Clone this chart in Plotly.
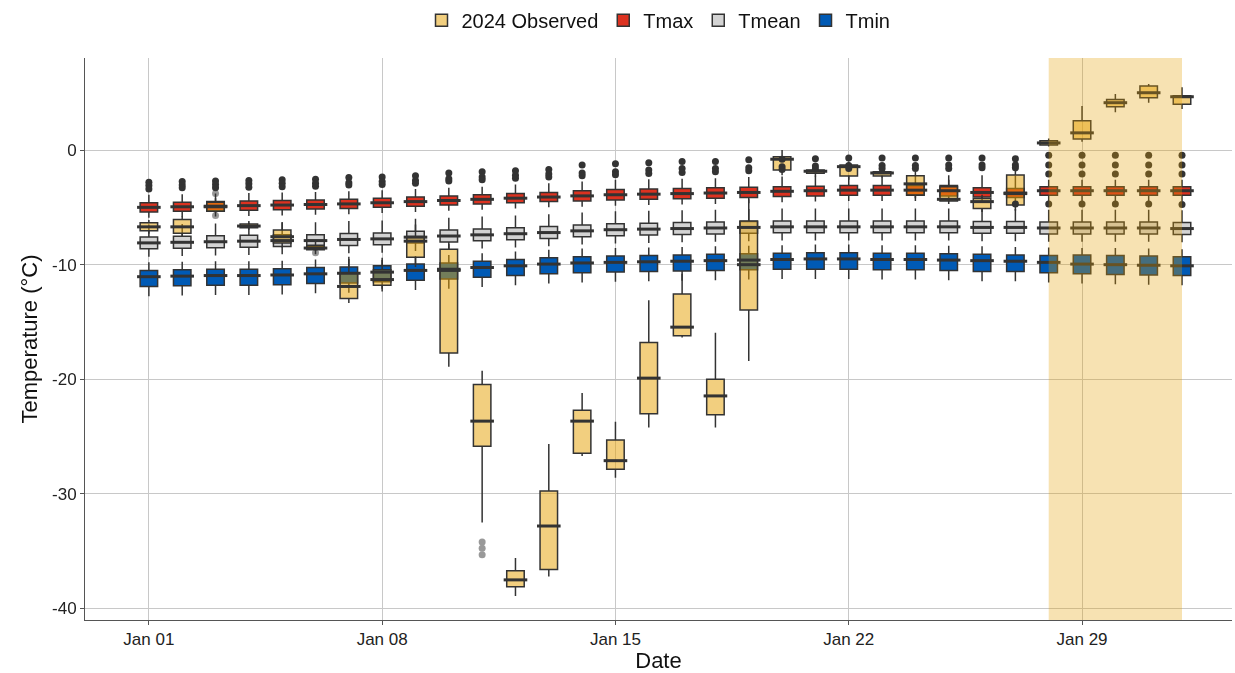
import pandas as pd
import plotly.graph_objects as go

# one box per day, Jan 01 .. Feb 01
dates = pd.date_range("2024-01-01", "2024-02-01", freq="D")

# climatology: Tmax
tmax_med = [-5.0, -4.95, -4.9, -4.85, -4.8, -4.75, -4.7, -4.6, -4.5, -4.4, -4.3, -4.2, -4.1, -4.0, -3.9, -3.85,
            -3.8, -3.75, -3.7, -3.6, -3.55, -3.5, -3.5, -3.5, -3.55, -3.7, -3.75, -3.55, -3.55, -3.55, -3.55, -3.55]
tmax_q1 = [-5.4, -5.35, -5.3, -5.25, -5.2, -5.15, -5.1, -5.0, -4.9, -4.8, -4.7, -4.6, -4.5, -4.45, -4.35, -4.3,
           -4.25, -4.2, -4.15, -4.05, -4.0, -3.95, -3.95, -3.95, -4.0, -4.1, -4.15, -3.95, -3.95, -3.95, -3.95, -3.95]
tmax_q3 = [-4.6, -4.55, -4.5, -4.45, -4.4, -4.35, -4.3, -4.2, -4.1, -4.0, -3.9, -3.8, -3.7, -3.55, -3.45, -3.4,
           -3.35, -3.3, -3.25, -3.2, -3.15, -3.1, -3.1, -3.1, -3.1, -3.3, -3.35, -3.2, -3.2, -3.2, -3.2, -3.2]
tmax_lo = [-5.9, -5.85, -5.8, -5.75, -5.7, -5.65, -5.6, -5.5, -5.4, -5.3, -5.2, -5.1, -5.0, -4.95, -4.85, -4.8,
           -4.75, -4.7, -4.65, -4.55, -4.5, -4.45, -4.45, -4.45, -4.5, -4.6, -4.65, -4.45, -4.45, -4.45, -4.45, -4.45]
tmax_hi = [-3.9, -3.85, -3.8, -3.75, -3.7, -3.65, -3.6, -3.5, -3.4, -3.3, -3.2, -3.0, -2.9, -2.75, -2.6, -2.55,
           -2.5, -2.45, -2.35, -2.3, -2.25, -2.2, -2.2, -2.2, -2.2, -2.2, -2.25, -2.6, -2.6, -2.6, -2.6, -2.6]
tmax_out = [[-2.8, -3.1, -3.4], [-2.75, -3.05, -3.3], [-2.7, -3.0, -3.3], [-2.65, -2.95, -3.25],
            [-2.6, -2.9, -3.2], [-2.55, -2.9, -3.15], [-2.4, -2.85, -3.05], [-2.35, -2.75, -3.0],
            [-2.25, -2.65, -2.9], [-2.0, -2.5, -2.7], [-1.9, -2.35, -2.6], [-1.8, -2.2, -2.45],
            [-1.7, -2.1, -2.35], [-1.3, -2.0, -2.25], [-1.2, -1.9, -2.15], [-1.1, -1.75, -2.05],
            [-1.0, -1.6, -1.95], [-1.0, -1.6, -1.9], [-0.85, -1.55, -1.8], [-0.8, -1.45, -1.7],
            [-0.75, -1.4, -1.65], [-0.7, -1.35, -1.6], [-0.7, -1.35, -1.6], [-0.7, -1.35, -1.6],
            [-0.7, -1.3, -1.6], [-0.7, -1.3, -1.55], [-0.75, -1.3, -1.55, -4.7],
            [-0.45, -1.3, -2.1, -4.7], [-0.45, -1.3, -2.1, -4.7], [-0.45, -1.3, -2.1, -4.7],
            [-0.45, -1.3, -2.1, -4.7], [-0.45, -1.3, -2.1, -4.75]]

# climatology: Tmean
tmean_med = [-8.1, -8.05, -8.0, -7.95, -7.9, -7.9, -7.8, -7.75, -7.6, -7.5, -7.4, -7.3, -7.2, -7.05, -6.95, -6.9,
             -6.85, -6.8, -6.75, -6.7, -6.7, -6.7, -6.7, -6.7, -6.7, -6.75, -6.75, -6.8, -6.8, -6.8, -6.8, -6.85]
tmean_q1 = [-8.62, -8.57, -8.52, -8.47, -8.42, -8.42, -8.32, -8.27, -8.12, -8.02, -7.92, -7.82, -7.72, -7.57, -7.47, -7.42,
            -7.37, -7.32, -7.27, -7.22, -7.22, -7.22, -7.22, -7.22, -7.22, -7.27, -7.27, -7.32, -7.32, -7.32, -7.32, -7.37]
tmean_q3 = [-7.58, -7.53, -7.48, -7.43, -7.38, -7.38, -7.28, -7.23, -7.08, -6.98, -6.88, -6.78, -6.68, -6.53, -6.43, -6.38,
            -6.33, -6.28, -6.23, -6.18, -6.18, -6.18, -6.18, -6.18, -6.18, -6.23, -6.23, -6.28, -6.28, -6.28, -6.28, -6.33]
tmean_lo = [-9.3, -9.25, -9.2, -9.15, -9.1, -9.1, -9.0, -8.95, -8.8, -8.7, -8.6, -8.5, -8.4, -8.25, -8.15, -8.1,
            -8.05, -8.0, -7.95, -7.9, -7.9, -7.9, -7.9, -7.9, -7.9, -7.95, -7.95, -8.0, -8.0, -8.0, -8.0, -8.05]
tmean_hi = [-6.5, -6.45, -6.4, -6.35, -6.3, -6.3, -6.2, -6.15, -6.0, -5.9, -5.8, -5.7, -5.6, -5.45, -5.35, -5.3,
            -5.25, -5.2, -5.15, -5.1, -5.1, -5.1, -5.1, -5.1, -5.1, -5.15, -5.15, -5.2, -5.2, -5.2, -5.2, -5.25]

# climatology: Tmin
tmin_med = [-11.05, -11.0, -10.95, -10.95, -10.9, -10.8, -10.75, -10.65, -10.5, -10.4, -10.25, -10.1, -9.95, -9.85, -9.8, -9.75,
            -9.7, -9.65, -9.6, -9.55, -9.5, -9.5, -9.55, -9.55, -9.6, -9.65, -9.7, -9.8, -9.95, -10.0, -10.05, -10.1]
tmin_q1 = [-11.9, -11.85, -11.8, -11.8, -11.75, -11.65, -11.6, -11.5, -11.35, -11.25, -11.1, -10.95, -10.8, -10.7, -10.65, -10.6,
           -10.55, -10.5, -10.45, -10.4, -10.4, -10.4, -10.45, -10.45, -10.5, -10.6, -10.6, -10.7, -10.8, -10.85, -10.9, -10.95]
tmin_q3 = [-10.5, -10.45, -10.4, -10.4, -10.35, -10.25, -10.2, -10.1, -9.95, -9.85, -9.7, -9.55, -9.4, -9.3, -9.25, -9.2,
           -9.15, -9.1, -9.05, -9.0, -8.95, -8.95, -9.0, -9.0, -9.05, -9.1, -9.15, -9.2, -9.15, -9.2, -9.25, -9.3]
tmin_lo = [-12.75, -12.7, -12.65, -12.65, -12.6, -12.5, -12.45, -12.35, -12.2, -12.1, -11.95, -11.8, -11.65, -11.55, -11.5, -11.45,
           -11.4, -11.35, -11.3, -11.25, -11.25, -11.25, -11.3, -11.3, -11.35, -11.45, -11.45, -11.55, -11.65, -11.7, -11.75, -11.8]
tmin_hi = [-9.8, -9.75, -9.7, -9.7, -9.65, -9.55, -9.5, -9.4, -9.25, -9.15, -9.0, -8.85, -8.7, -8.6, -8.55, -8.5,
           -8.45, -8.4, -8.35, -8.3, -8.25, -8.25, -8.3, -8.3, -8.35, -8.4, -8.45, -8.5, -8.55, -8.55, -8.6, -8.65]

# 2024 observed
obs_med = [-6.7, -6.7, -4.95, -6.63, -7.56, -8.55, -11.9, -11.3, -7.95, -10.5, -23.65, -37.5, -32.8, -23.65, -27.1, -19.9,
           -15.45, -21.45, -10.0, -0.8, -1.85, -1.45, -2.0, -2.95, -4.3, -4.5, -3.8, 0.62, 1.5, 4.13, 5.0, 4.65]
obs_q1 = [-7.05, -7.27, -5.35, -6.78, -8.1, -8.7, -12.95, -11.8, -9.35, -17.7, -25.85, -38.1, -36.6, -26.45, -27.85, -23.0,
          -16.2, -23.1, -13.95, -1.75, -2.03, -2.27, -2.27, -3.93, -4.45, -5.1, -4.8, 0.44, 0.96, 3.78, 4.57, 3.99]
obs_q3 = [-6.35, -6.05, -4.55, -6.46, -6.98, -8.3, -10.75, -10.45, -7.55, -8.65, -20.45, -36.7, -29.75, -22.7, -25.3, -16.8,
          -12.55, -20.0, -6.2, -0.58, -1.75, -1.3, -1.89, -2.24, -3.2, -4.22, -2.18, 0.81, 2.56, 4.42, 5.58, 4.74]
obs_lo = [-7.3, -7.5, -5.5, -6.95, -8.5, -8.8, -13.35, -12.1, -10.2, -18.9, -32.5, -38.9, -37.2, -26.7, -28.6, -24.2,
          -16.35, -24.2, -18.4, -2.2, -2.3, -2.6, -2.4, -4.2, -4.7, -5.4, -5.3, 0.3, 0.73, 3.29, 4.13, 3.58]
obs_hi = [-6.1, -5.8, -4.2, -6.2, -6.3, -7.9, -9.3, -9.6, -6.5, -8.2, -19.25, -35.6, -25.65, -21.2, -23.7, -13.1,
          -10.8, -15.95, -4.3, 0.0, -1.5, -1.0, -1.7, -1.9, -2.6, -3.9, -1.4, 1.0, 3.84, 4.89, 5.76, 5.47]
obs_out = [[], [], [-3.8, -5.7], [], [], [-8.95], [], [], [], [], [-34.2, -34.75, -35.3], [], [], [], [], [],
           [], [], [], [], [], [], [], [], [], [], [], [], [], [], [], []]

tick_vals = [0, -10, -20, -30, -40]
tick_text = ["0", "-10", "-20", "-30", "-40"]

LINE = "#333333"
half = pd.Timedelta(hours=8, minutes=30)

# name, fill, stats..., outliers, alpha of outlier points, legend rank
series = [
    ("Tmax", "#DC3220", tmax_med, tmax_q1, tmax_q3, tmax_lo, tmax_hi, tmax_out, 1.0, 2),
    ("Tmean", "#D3D3D3", tmean_med, tmean_q1, tmean_q3, tmean_lo, tmean_hi, None, 1.0, 3),
    ("Tmin", "#005AB5", tmin_med, tmin_q1, tmin_q3, tmin_lo, tmin_hi, None, 1.0, 4),
    ("2024 Observed", "rgba(230,159,0,0.5)", obs_med, obs_q1, obs_q3, obs_lo, obs_hi, obs_out, 0.5, 1),
]

fig = go.Figure()
for name, col, med, q1, q3, lo, hi, out, op, rank in series:
    fig.add_trace(go.Box(
        x=dates, q1=q1, median=med, q3=q3, lowerfence=lo, upperfence=hi,
        name=name, fillcolor=col, line=dict(color=LINE, width=1.5),
        whiskerwidth=0, legendrank=rank, hoverinfo="skip",
    ))
    # thicker median bar, as in ggplot
    mx, my = [], []
    for d, m in zip(dates, med):
        mx += [d - half, d + half, None]
        my += [m, m, None]
    fig.add_trace(go.Scatter(x=mx, y=my, mode="lines", line=dict(color=LINE, width=3),
                             showlegend=False, hoverinfo="skip"))
    if out:
        ox, oy = [], []
        for d, vals in zip(dates, out):
            ox += [d] * len(vals)
            oy += vals
        fig.add_trace(go.Scatter(x=ox, y=oy, mode="markers", marker=dict(color=LINE, size=7),
                                 opacity=op, showlegend=False, hoverinfo="skip"))

fig.add_shape(type="rect", xref="x", yref="paper", x0="2024-01-28", x1="2024-02-01", y0=0, y1=1,
              fillcolor="#E69F00", opacity=0.3, line_width=0, layer="above")

fig.update_layout(
    width=1235, height=673,
    margin=dict(l=85, r=3, t=58, b=53),
    paper_bgcolor="white", plot_bgcolor="white",
    font=dict(family="Liberation Sans, Arial, sans-serif", color="#222222"),
    boxmode="overlay", boxgap=0.25,
    legend=dict(orientation="h", x=0.5, xanchor="center", y=0.97, yref="container", yanchor="middle",
                font=dict(size=20, color="#111111"), itemwidth=30, traceorder="normal"),
    xaxis=dict(
        type="date", range=["2023-12-30 02:00", "2024-02-02 12:00"],
        tick0="2024-01-01", dtick=7 * 86400000, tickformat="%b %d",
        showgrid=True, gridcolor="#C8C8C8", gridwidth=1.3, zeroline=False,
        showline=True, linecolor="#555555", linewidth=1,
        ticks="outside", ticklen=4, tickcolor="#555555",
        tickfont=dict(size=17, color="#222222"),
        title=dict(text="Date", font=dict(size=22, color="#111111"), standoff=5),
    ),
    yaxis=dict(
        range=[-41.0, 8.03], tickvals=tick_vals, ticktext=tick_text,
        showgrid=True, gridcolor="#C8C8C8", gridwidth=1.3, zeroline=False,
        showline=True, linecolor="#555555", linewidth=1,
        ticks="outside", ticklen=4, tickcolor="#555555",
        tickfont=dict(size=17, color="#222222"),
        title=dict(text="Temperature (°C)", font=dict(size=22, color="#111111"), standoff=8),
    ),
)

fig.write_html("out.html", config={"displayModeBar": False},
               post_script="document.body.style.margin='0';document.body.style.overflow='hidden';")
